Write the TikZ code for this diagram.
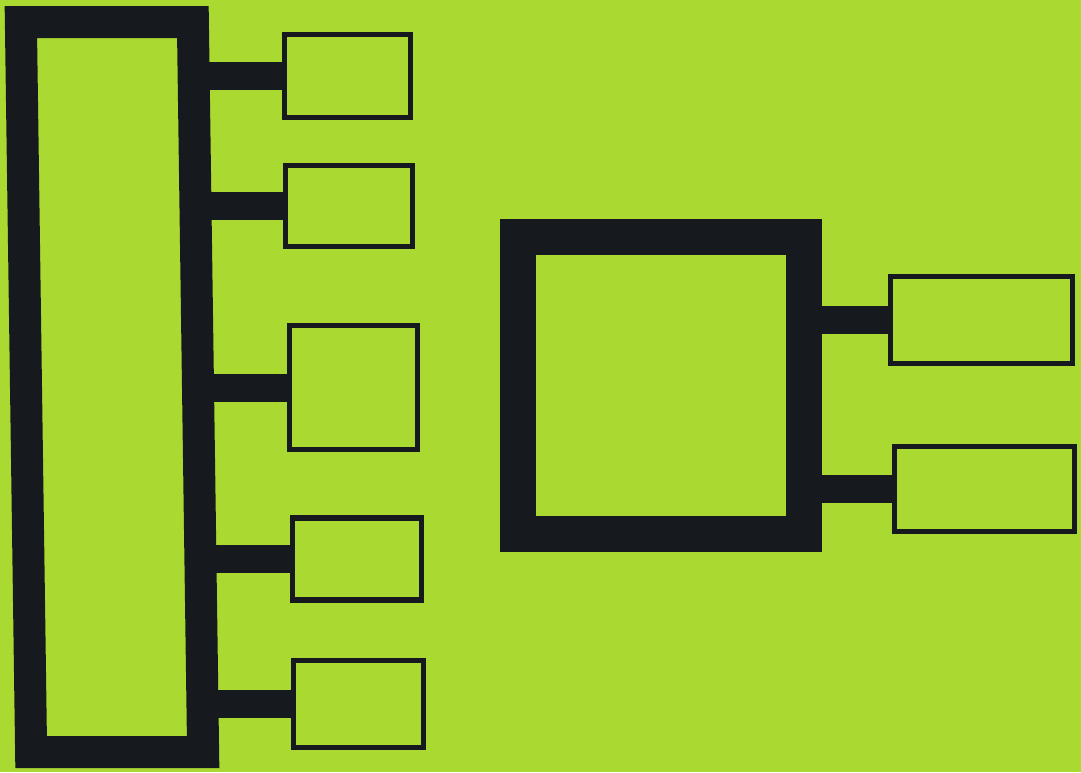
\documentclass[tikz,border=0pt]{standalone}
\definecolor{paper}{RGB}{170,218,50}
\definecolor{ink}{RGB}{22,26,30}
\tikzset{
  frame/.style={draw=ink, fill=none, line width=#1, inner sep=0pt, rectangle},
  smallbox/.style={draw=ink, line width=5.5pt, inner sep=0pt, rectangle},
  bar/.style={draw=ink, line width=28pt, line cap=butt},
}
\begin{document}
\begin{tikzpicture}[x=1pt,y=-1pt]
  \fill[paper] (0,0) rectangle (1081,772);
  \useasboundingbox (0,0) rectangle (1081,772);
  % big left frame (slightly slanted, as drawn by hand)
  \node[frame=32pt, xslant=-0.014, minimum width=172pt, minimum height=730pt] (big) at (112,387) {};
  % small boxes on the left column
  \node[smallbox, minimum width=126pt, minimum height=83pt] (b1) at (347.5,76) {};
  \node[smallbox, minimum width=127pt, minimum height=81pt] (b2) at (349,206) {};
  \node[smallbox, minimum width=128pt, minimum height=124pt] (b3) at (353.5,387.5) {};
  \node[smallbox, minimum width=129pt, minimum height=82pt] (b4) at (357,559) {};
  \node[smallbox, minimum width=130pt, minimum height=87pt] (b5) at (358.5,704) {};
  % square frame on the right
  \node[frame=36pt, minimum width=286pt, minimum height=297pt] (sq) at (661,385.5) {};
  \node[smallbox, minimum width=182pt, minimum height=87pt] (r1) at (981.5,320) {};
  \node[smallbox, minimum width=180pt, minimum height=85pt] (r2) at (984.5,489) {};
  % connectors
  \foreach \b in {b1,b2,b3,b4,b5}
    \draw[bar] ([xshift=-12pt]big.east |- \b.west) -- ([xshift=1pt]\b.west);
  \foreach \b in {r1,r2}
    \draw[bar] ([xshift=-8pt]sq.east |- \b.west) -- ([xshift=1pt]\b.west);
\end{tikzpicture}
\end{document}
